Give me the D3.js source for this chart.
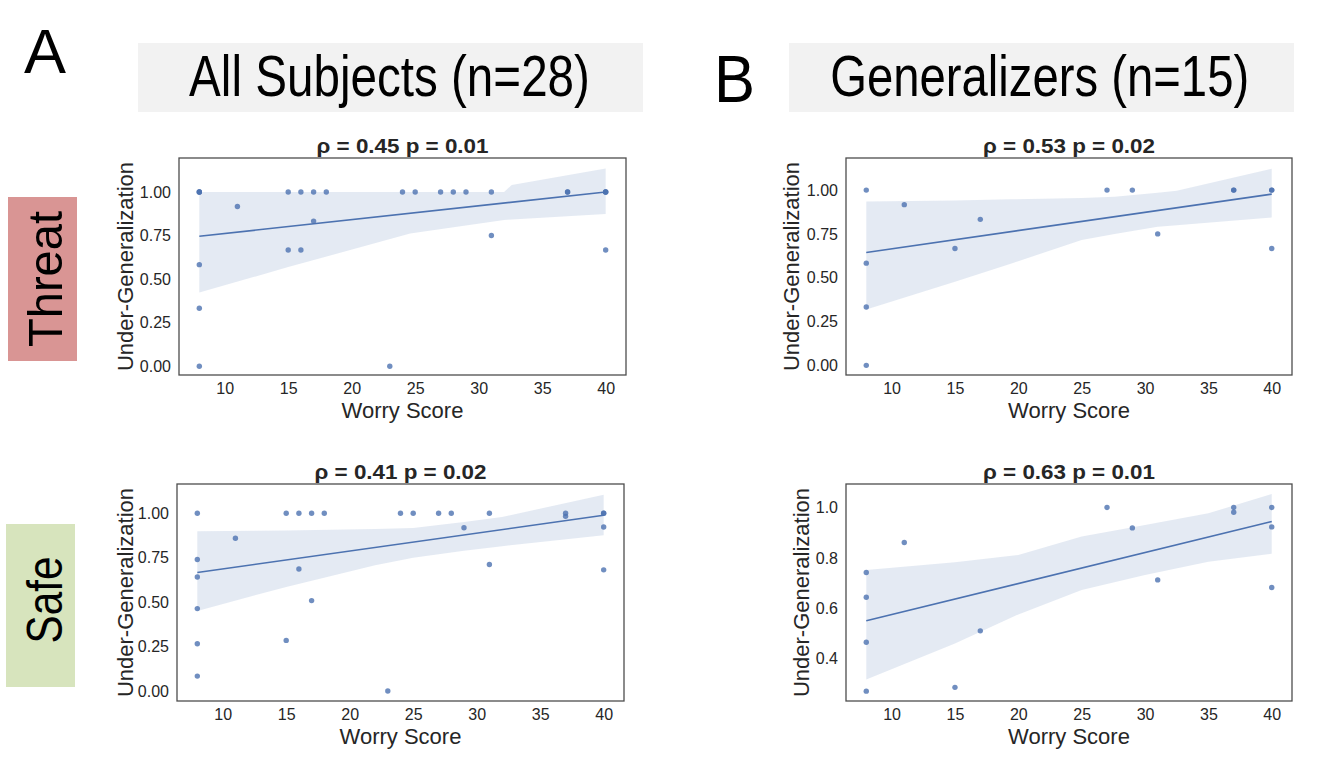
<!DOCTYPE html>
<html>
<head>
<meta charset="utf-8">
<script src="https://cdn.jsdelivr.net/npm/d3@7"></script>
<style>
  body { margin: 0; background: #fff; }
  svg { display: block; font-family: "Liberation Sans", Arial, sans-serif; }
</style>
</head>
<body>
<div id="fig"></div>
<script>
// all subjects (n=28): worry score and under-generalization per condition
const worryAll  = [8, 8, 8, 8, 8, 8, 11, 15, 15, 16, 16, 17, 17, 18, 23, 24, 25, 27, 28, 29, 31, 31, 37, 37, 40, 40, 40, 40]
const threatAll = [1, 1, 1, 0.583, 0.333, 0, 0.917, 1, 0.667, 1, 0.667, 1, 0.833, 1, 0, 1, 1, 1, 1, 1, 1, 0.75, 1, 1, 1, 1, 1, 0.667]
const safeAll   = [1, 0.74, 0.642, 0.464, 0.266, 0.084, 0.86, 1, 0.285, 1, 0.687, 1, 0.509, 1, 0, 1, 1, 1, 1, 0.919, 1, 0.712, 1, 0.983, 1, 1, 0.923, 0.682]

// generalizers (n=15)
const worryGen  = [8, 8, 8, 8, 11, 15, 17, 27, 29, 31, 37, 37, 40, 40, 40]
const threatGen = [1, 0.583, 0.333, 0, 0.917, 0.667, 0.833, 1, 1, 0.75, 1, 1, 1, 1, 0.667]
const safeGen   = [0.742, 0.644, 0.466, 0.272, 0.861, 0.287, 0.511, 1, 0.919, 0.713, 1, 0.981, 1, 0.923, 0.683]

const statTitles = ["ρ = 0.45 p = 0.01", "ρ = 0.53 p = 0.02", "ρ = 0.41 p = 0.02", "ρ = 0.63 p = 0.01"]

// regression line, read at x = 8 and x = 40
const fitX = [8, 40]
const fitThreatAll = [0.746, 1.0]
const fitThreatGen = [0.644, 0.977]
const fitSafeAll   = [0.667, 0.989]
const fitSafeGen   = [0.551, 0.944]

// bootstrap confidence band edges
const bandXThreatAll  = [8, 15, 24.6, 32, 32.6, 40]
const bandHiThreatAll = [1.0, 1.0, 1.0, 1.0, 1.04, 1.135]
const bandLoThreatAll = [0.423, 0.569, 0.762, 0.84, 0.842, 0.873]

const bandXThreatGen  = [8, 15, 19.4, 25, 27.6, 31, 32.5, 40]
const bandHiThreatGen = [0.935, 0.94, 0.947, 0.955, 0.962, 0.985, 0.996, 1.122]
const bandLoThreatGen = [0.319, 0.477, 0.58, 0.715, 0.75, 0.791, 0.8, 0.844]

const bandXSafeAll  = [8, 15, 22, 25, 29, 32, 40]
const bandHiSafeAll = [0.899, 0.903, 0.912, 0.918, 0.951, 0.979, 1.105]
const bandLoSafeAll = [0.451, 0.586, 0.708, 0.75, 0.79, 0.815, 0.876]

const bandXSafeGen  = [8, 15, 20, 25, 30, 35, 40]
const bandHiSafeGen = [0.752, 0.783, 0.812, 0.885, 0.931, 0.977, 1.053]
const bandLoSafeGen = [0.318, 0.461, 0.576, 0.673, 0.732, 0.785, 0.817]

const xTicks = [10, 15, 20, 25, 30, 35, 40]
const yTicksProp = [0, 0.25, 0.5, 0.75, 1]
const yTicksSafeGen = [0.4, 0.6, 0.8, 1.0]

const xDomain = [6.4, 41.6]

const blue = "#4c72b0"
const ink = "#262626"

const panels = [
    { left: 179, right: 626, top: 158, bottom: 375, yDomain: [-0.05, 1.195], yTicks: yTicksProp, fmt: ".2f", labelGap: 46,
      xs: worryAll, ys: threatAll, fit: fitThreatAll, band: [bandXThreatAll, bandLoThreatAll, bandHiThreatAll], title: statTitles[0] },
    { left: 846, right: 1292, top: 158, bottom: 375, yDomain: [-0.055, 1.183], yTicks: yTicksProp, fmt: ".2f", labelGap: 47,
      xs: worryGen, ys: threatGen, fit: fitThreatGen, band: [bandXThreatGen, bandLoThreatGen, bandHiThreatGen], title: statTitles[1] },
    { left: 177, right: 624, top: 484, bottom: 701, yDomain: [-0.056, 1.165], yTicks: yTicksProp, fmt: ".2f", labelGap: 44,
      xs: worryAll, ys: safeAll, fit: fitSafeAll, band: [bandXSafeAll, bandLoSafeAll, bandHiSafeAll], title: statTitles[2] },
    { left: 846, right: 1292, top: 484, bottom: 701, yDomain: [0.233, 1.093], yTicks: yTicksSafeGen, fmt: ".1f", labelGap: 37,
      xs: worryGen, ys: safeGen, fit: fitSafeGen, band: [bandXSafeGen, bandLoSafeGen, bandHiSafeGen], title: statTitles[3] }
]

const svg = d3.select("#fig")
    .append("svg")
    .attr("width", 1319)
    .attr("height", 768)

// squeeze a text horizontally (along its own direction) to a measured width
function squeeze(sel, pos, len, rot) {
    const w = sel.node().getComputedTextLength()
    sel.attr("transform", `translate(${pos[0]},${pos[1]})${rot ? " rotate(-90)" : ""} scale(${len / w},1)`)
}

function drawPanel(p) {
    const x = d3.scaleLinear().domain(xDomain).range([p.left, p.right])
    const y = d3.scaleLinear().domain(p.yDomain).range([p.bottom, p.top])
    const g = svg.append("g")

    const area = d3.area()
        .x(d => x(d[0]))
        .y0(d => y(d[1]))
        .y1(d => y(d[2]))
    g.append("path")
        .datum(d3.zip(...p.band))
        .attr("d", area)
        .attr("fill", blue)
        .attr("fill-opacity", 0.15)

    g.selectAll("circle")
        .data(d3.zip(p.xs, p.ys))
        .join("circle")
        .attr("cx", d => x(d[0]))
        .attr("cy", d => y(d[1]))
        .attr("r", 2.7)
        .attr("fill", blue)
        .attr("fill-opacity", 0.8)

    g.append("path")
        .datum(d3.zip(fitX, p.fit))
        .attr("d", d3.line().x(d => x(d[0])).y(d => y(d[1])))
        .attr("fill", "none")
        .attr("stroke", blue)
        .attr("stroke-width", 1.6)

    const xAxis = g.append("g")
        .attr("transform", `translate(0,${p.bottom})`)
        .call(d3.axisBottom(x).tickValues(xTicks).tickSize(0).tickPadding(8))
    const yAxis = g.append("g")
        .attr("transform", `translate(${p.left},0)`)
        .call(d3.axisLeft(y).tickValues(p.yTicks).tickFormat(d3.format(p.fmt)).tickSize(0).tickPadding(8))
    for (const a of [xAxis, yAxis]) {
        a.select(".domain").remove()
        a.selectAll("text")
            .attr("font-size", 16)
            .attr("font-family", "Liberation Sans, Arial, sans-serif")
            .attr("fill", ink)
    }

    g.append("rect")
        .attr("x", p.left)
        .attr("y", p.top)
        .attr("width", p.right - p.left)
        .attr("height", p.bottom - p.top)
        .attr("fill", "none")
        .attr("stroke", "#4d4d4d")
        .attr("stroke-width", 1.3)

    const cx = (p.left + p.right) / 2
    g.append("text")
        .attr("x", cx)
        .attr("y", p.top - 5)
        .attr("text-anchor", "middle")
        .attr("font-size", 21)
        .attr("font-weight", "bold")
        .attr("textLength", 172)
        .attr("lengthAdjust", "spacingAndGlyphs")
        .attr("fill", ink)
        .text(p.title)

    g.append("text")
        .attr("x", cx)
        .attr("y", p.bottom + 43)
        .attr("text-anchor", "middle")
        .attr("font-size", 22)
        .attr("fill", ink)
        .text("Worry Score")

    g.append("text")
        .attr("transform", `translate(${p.left - p.labelGap},${(p.top + p.bottom) / 2}) rotate(-90)`)
        .attr("text-anchor", "middle")
        .attr("font-size", 22)
        .attr("fill", ink)
        .text("Under-Generalization")
}

panels.forEach(drawPanel)

// column headers
const headers = [
    { x0: 138, x1: 643, text: "All Subjects (n=28)", cx: 389.5, len: 401 },
    { x0: 789, x1: 1294, text: "Generalizers (n=15)", cx: 1039.7, len: 419 }
]
headers.forEach(h => {
    svg.append("rect")
        .attr("x", h.x0).attr("y", 43)
        .attr("width", h.x1 - h.x0).attr("height", 69)
        .attr("fill", "#f2f2f2")
    const t = svg.append("text")
        .attr("text-anchor", "middle")
        .attr("font-size", 57)
        .attr("fill", "#000")
        .text(h.text)
    squeeze(t, [h.cx, 96], h.len, false)
})

svg.append("text")
    .attr("x", 24).attr("y", 72.7)
    .attr("font-size", 63)
    .attr("fill", "#000")
    .text("A")

const bLabel = svg.append("text")
    .attr("font-size", 67)
    .attr("fill", "#000")
    .text("B")
squeeze(bLabel, [714, 101.7], 41, false)

// row labels
const rows = [
    { y0: 197, y1: 361, x0: 8, x1: 77, fill: "#d99594", text: "Threat", cy: 279, len: 136, size: 49 },
    { y0: 524, y1: 687, x0: 6, x1: 75, fill: "#d7e4bd", text: "Safe", cy: 600, len: 87, size: 50 }
]
rows.forEach(r => {
    svg.append("rect")
        .attr("x", r.x0).attr("y", r.y0)
        .attr("width", r.x1 - r.x0).attr("height", r.y1 - r.y0)
        .attr("fill", r.fill)
    const t = svg.append("text")
        .attr("text-anchor", "middle")
        .attr("font-size", r.size)
        .attr("fill", "#000")
        .text(r.text)
    squeeze(t, [61.5, r.cy], r.len, true)
})
</script>
</body>
</html>
